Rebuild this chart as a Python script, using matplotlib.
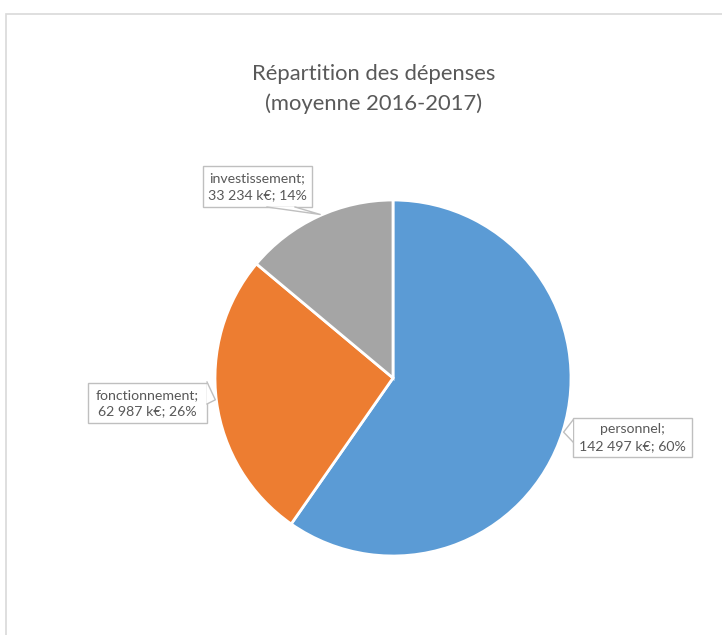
import numpy as np
import matplotlib.pyplot as plt
from matplotlib.patches import Rectangle, Polygon

categories = ["personnel", "fonctionnement", "investissement"]
values = [142497, 62987, 33234]
percents = ["60%", "26%", "14%"]
colors = ["#5B9BD5", "#ED7D31", "#A5A5A5"]

W, H = 722, 635
plt.rcParams["font.family"] = ["Lato", "DejaVu Sans"]
fig = plt.figure(figsize=(W / 100, H / 100), dpi=100)
ax = fig.add_axes([0, 0, 1, 1])
ax.axis("off")

# chart frame
ax.add_patch(Rectangle((6, -10), W + 10, H - 14 + 10, fill=False, ec="#D9D9D9", lw=1.2))

cx, cy, r = 393, H - 378, 178
ax.pie(values, colors=colors, startangle=90, counterclock=False,
       center=(cx, cy), radius=r,
       wedgeprops=dict(edgecolor="white", linewidth=2))
ax.set_xlim(0, W)
ax.set_ylim(0, H)
ax.set_aspect("equal")

txt = "#595959"
edge = "#BFBFBF"

ax.text(374, H - 74, "Répartition des dépenses", ha="center", va="center",
        fontsize=15.8, color=txt)
ax.text(374, H - 104, "(moyenne 2016-2017)", ha="center", va="center",
        fontsize=15.8, color=txt)

# label boxes: left, top, width, height (pixels from top-left)
boxes = [(573, 418, 119, 39), (88, 383, 119, 40), (203, 166, 109, 41)]
# callout tail: which side, base span along that side, tip angle on pie
tails = [("left", (420, 442), -17.6), ("right", (382, 404), 187), ("bottom", (267, 295), 114)]

for name, v, p, (bl, bt, bw, bh), (side, span, a) in zip(categories, values, percents, boxes, tails):
    label = f"{name};\n{v:,} k€; {p}".replace(",", " ")
    y0 = H - bt - bh
    ax.add_patch(Rectangle((bl, y0), bw, bh, fc="white", ec=edge, lw=1, zorder=3))
    ax.text(bl + bw / 2, y0 + bh / 2, label, ha="center", va="center",
            fontsize=10.2, color=txt, linespacing=1.45, zorder=5)
    tip = (cx + (r + 1) * np.cos(np.radians(a)), cy + (r + 1) * np.sin(np.radians(a)))
    if side == "left":
        b1, b2 = (bl, H - span[0]), (bl, H - span[1])
    elif side == "right":
        b1, b2 = (bl + bw, H - span[0]), (bl + bw, H - span[1])
    else:
        b1, b2 = (span[0], y0), (span[1], y0)
    ax.add_patch(Polygon([b1, tip, b2], closed=True, fc="white", ec="none", zorder=4))
    ax.plot([b1[0], tip[0], b2[0]], [b1[1], tip[1], b2[1]], color=edge, lw=1, zorder=4)

fig.savefig("out.png", dpi=100)
